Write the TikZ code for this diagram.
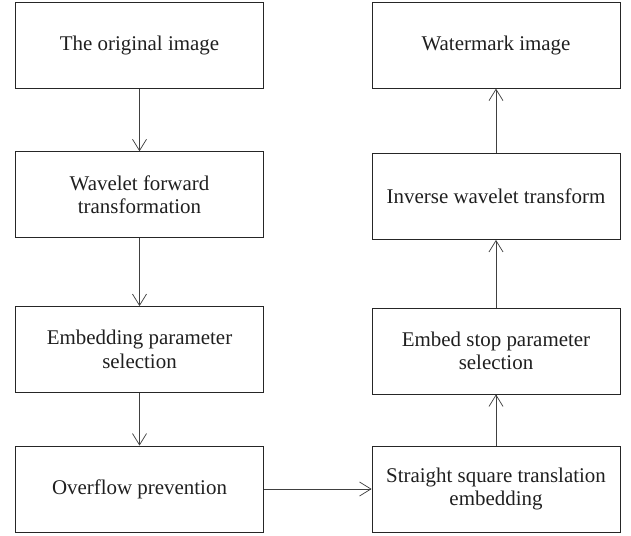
\documentclass[tikz,border=0pt]{standalone}
\usepackage{fontspec}
\setmainfont{Liberation Serif}
\usepackage{tikz}
\usetikzlibrary{positioning}
\usetikzlibrary{arrows.meta}

\begin{document}
\begin{tikzpicture}[
        x=0.75pt,y=-0.75pt,
        box/.style={draw=black!85,line width=0.6pt,minimum width=186pt,minimum height=64.5pt,
          align=center,text=black!88,font=\fontsize{15.7}{17.5}\selectfont,inner sep=0pt},
        flow/.style={draw=black!75,line width=0.55pt,-{Straight Barb[length=8.5pt,width=10.5pt]}}
      ]
        \useasboundingbox (0,0) rectangle (631,535);
        % left column
        \node[box] (orig) at (139.5,45.8) {The original image};
        \node[box] (fwd) at (139.5,194.7) {Wavelet forward\\transformation};
        \node[box] (param) at (139.5,349.5) {Embedding parameter\\selection};
        \node[box] (over) at (139.5,489) {Overflow prevention};
        % right column
        \node[box] (mark) at (496,45.2) {Watermark image};
        \node[box] (inv) at (496,196.5) {Inverse wavelet transform};
        \node[box] (stop) at (496,351) {Embed stop parameter\\selection};
        \node[box] (embed) at (496,489) {Straight square translation\\embedding};
        % connectors
        \draw[flow] (orig) -- (fwd);
        \draw[flow] (fwd) -- (param);
        \draw[flow] (param) -- (over);
        \draw[flow] (over) -- (embed);
        \draw[flow] (embed) -- (stop);
        \draw[flow] (stop) -- (inv);
        \draw[flow] (inv) -- (mark);
      \end{tikzpicture}
\end{document}
